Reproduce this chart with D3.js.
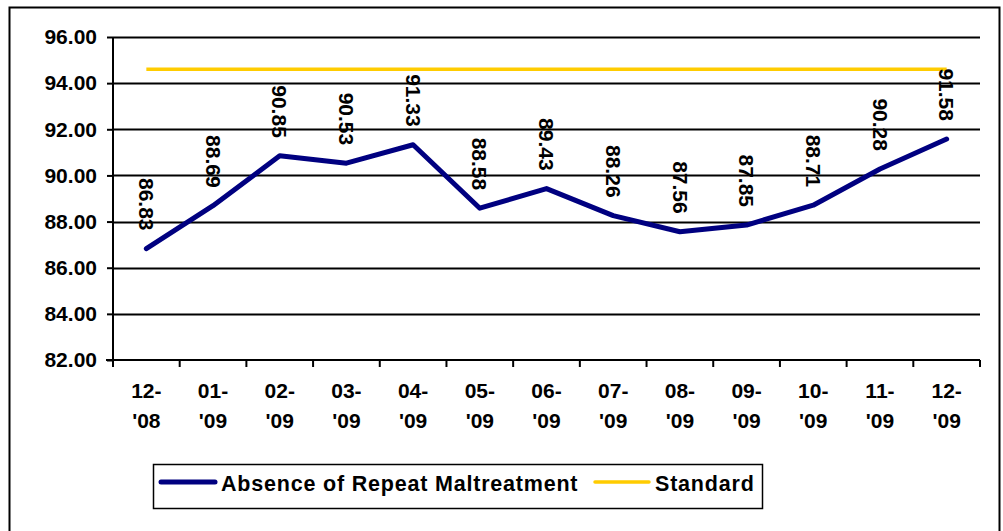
<!DOCTYPE html>
<html>
<head>
<meta charset="utf-8">
<script src="https://cdn.jsdelivr.net/npm/d3@7"></script>
<style>
  body { margin: 0; background: #fff; }
  svg { display: block; font-family: "Liberation Sans", Arial, sans-serif; font-weight: bold; }
</style>
</head>
<body>
<svg id="chart" width="1003" height="531"></svg>
<script>
// chart values
var months = ["12-'08", "01-'09", "02-'09", "03-'09", "04-'09", "05-'09", "06-'09",
              "07-'09", "08-'09", "09-'09", "10-'09", "11-'09", "12-'09"];
var absence = [86.83, 88.69, 90.85, 90.53, 91.33, 88.58, 89.43, 88.26, 87.56, 87.85, 88.71, 90.28, 91.58];
var standard = [94.6, 94.6, 94.6, 94.6, 94.6, 94.6, 94.6, 94.6, 94.6, 94.6, 94.6, 94.6, 94.6];
var yTicks = [82, 84, 86, 88, 90, 92, 94, 96];
var seriesNames = ["Absence of Repeat Maltreatment", "Standard"];

var margin = { top: 37, right: 23, bottom: 171, left: 113 };
var svg = d3.select("#chart");
var width = 1003, height = 531;
var plotWidth = width - margin.left - margin.right;
var plotHeight = height - margin.top - margin.bottom;

// outer frame
svg.append("rect")
  .attr("x", 9.5).attr("y", 7.5)
  .attr("width", 990).attr("height", 540)
  .attr("fill", "none").attr("stroke", "#000").attr("stroke-width", 2);

var xScale = d3.scaleBand()
  .domain(months)
  .range([0, plotWidth]);

var yScale = d3.scaleLinear()
  .domain([82, 96])
  .range([plotHeight, 0]);

var plot = svg.append("g")
  .attr("transform", "translate(" + margin.left + "," + margin.top + ")");

// gridlines
plot.selectAll("line.grid")
  .data(yTicks.slice(1))
  .enter().append("line")
  .attr("class", "grid")
  .attr("x1", 0).attr("x2", plotWidth)
  .attr("y1", function(d) { return Math.round(yScale(d)) + 0.5; })
  .attr("y2", function(d) { return Math.round(yScale(d)) + 0.5; })
  .attr("stroke", "#000").attr("stroke-width", 2);

// y axis
var yAxis = d3.axisLeft(yScale)
  .tickValues(yTicks)
  .tickSize(6)
  .tickPadding(10)
  .tickFormat(d3.format(".2f"));
var yGroup = plot.append("g").attr("id", "y-axis").call(yAxis);
yGroup.select(".domain").attr("stroke", "#000").attr("stroke-width", 2).attr("d", "M0," + (plotHeight + 7) + "V0");
yGroup.selectAll(".tick line").attr("stroke-width", 2);
yGroup.selectAll(".tick text")
  .attr("fill", "#000")
  .style("font-size", "21px")
  .style("font-family", "'Liberation Sans', Arial, sans-serif")
  .style("font-weight", "bold");

// x axis with ticks at category boundaries
var xGroup = plot.append("g").attr("id", "x-axis")
  .attr("transform", "translate(0," + plotHeight + ")");
xGroup.append("line")
  .attr("x1", -7).attr("x2", plotWidth)
  .attr("stroke", "#000").attr("stroke-width", 2);
var bounds = months.map(function(m) { return xScale(m); }).concat([plotWidth]);
xGroup.selectAll("line.tick")
  .data(bounds)
  .enter().append("line")
  .attr("class", "tick")
  .attr("x1", function(d) { return d; }).attr("x2", function(d) { return d; })
  .attr("y1", 0).attr("y2", 7)
  .attr("stroke", "#000").attr("stroke-width", 2);

var xLabels = xGroup.selectAll("text.xlabel")
  .data(months)
  .enter().append("text")
  .attr("class", "xlabel")
  .attr("text-anchor", "middle")
  .style("font-size", "21px")
  .attr("transform", function(d) { return "translate(" + (xScale(d) + xScale.bandwidth() / 2) + ",0)"; });
xLabels.append("tspan").attr("x", 0).attr("y", 38)
  .text(function(d) { return d.split("-")[0] + "-"; });
xLabels.append("tspan").attr("x", 0).attr("y", 68)
  .text(function(d) { return d.split("-")[1]; });

var cx = function(d, i) { return xScale(months[i]) + xScale.bandwidth() / 2; };

// standard line
var line = d3.line()
  .x(function(d, i) { return cx(d, i); })
  .y(function(d) { return yScale(d); });

plot.append("path")
  .datum(standard)
  .attr("fill", "none")
  .attr("stroke", "#FFCC00")
  .attr("stroke-width", 3.5)
  .attr("d", line);

plot.append("path")
  .datum(absence)
  .attr("fill", "none")
  .attr("stroke", "#000080")
  .attr("stroke-width", 5)
  .attr("stroke-linejoin", "round")
  .attr("stroke-linecap", "round")
  .attr("d", line);

// data labels, rotated
plot.selectAll("text.val")
  .data(absence)
  .enter().append("text")
  .attr("class", "val")
  .attr("text-anchor", "end")
  .attr("dy", "0.35em")
  .style("font-size", "21px")
  .attr("transform", function(d, i) {
    return "translate(" + cx(d, i) + "," + (yScale(d) - 18) + ") rotate(90)";
  })
  .text(function(d) { return d.toFixed(2); });

// legend
var legend = svg.append("g");
legend.append("rect")
  .attr("x", 153.5).attr("y", 464.5)
  .attr("width", 609).attr("height", 44)
  .attr("fill", "#fff").attr("stroke", "#000").attr("stroke-width", 1.5);
var legendItems = [
  { name: seriesNames[0], color: "#000080", w: 5, x: 159 },
  { name: seriesNames[1], color: "#FFCC00", w: 3.5, x: 593 }
];
legendItems.forEach(function(item) {
  legend.append("line")
    .attr("x1", item.x + 2).attr("x2", item.x + 56)
    .attr("y1", 482).attr("y2", 482)
    .attr("stroke", item.color).attr("stroke-width", item.w)
    .attr("stroke-linecap", "round");
  legend.append("text")
    .attr("x", item.x + 62).attr("y", 491)
    .style("font-size", "21.5px")
    .style("letter-spacing", "0.8px")
    .text(item.name);
});
</script>
</body>
</html>
